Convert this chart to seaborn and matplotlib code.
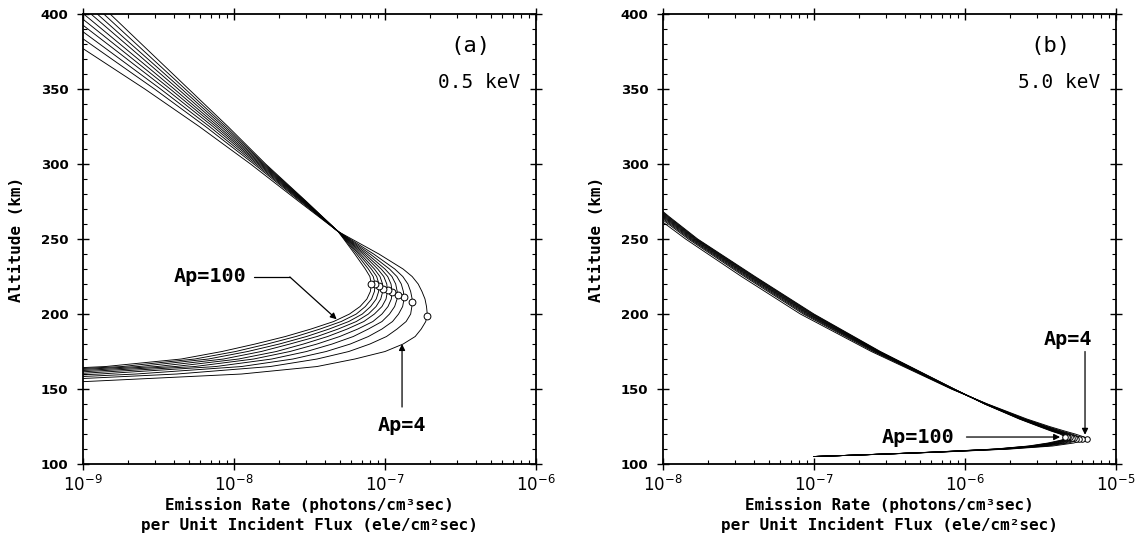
"""
Emission rate profiles vs altitude for 0.5 keV and 5.0 keV electrons
"""

import matplotlib

matplotlib.use("Agg")
import matplotlib.pyplot as plt
import pandas as pd
import seaborn as sns
from matplotlib.ticker import FixedLocator, LogLocator, MultipleLocator, NullFormatter

# Ap index of each curve
ap_values = [4, 9, 15, 22, 30, 40, 52, 65, 80, 100]

# (a) 0.5 keV : altitude grid (km) and log10 emission rate per Ap
alt_a = [150, 155, 160, 165, 170, 175, 180, 185, 190, 195, 200, 205, 210,
         215, 220, 225, 230, 240, 255, 275, 300, 325, 350, 375, 400]
log_rate_a = [
    [-10.50, -8.98, -7.95, -7.45, -7.20, -7.00, -6.88, -6.80, -6.76, -6.73, -6.72, -6.725, -6.735,
     -6.755, -6.78, -6.82, -6.88, -7.04, -7.31, -7.57, -7.89, -8.23, -8.59, -8.97, -9.35],
    [-10.83, -9.42, -8.38, -7.76, -7.45, -7.24, -7.10, -6.99, -6.92, -6.86, -6.83, -6.822, -6.820,
     -6.830, -6.848, -6.882, -6.935, -7.075, -7.31, -7.559, -7.868, -8.188, -8.526, -8.88, -9.233],
    [-11.04, -9.71, -8.65, -7.95, -7.61, -7.39, -7.23, -7.11, -7.02, -6.95, -6.91, -6.883, -6.874,
     -6.878, -6.892, -6.921, -6.97, -7.098, -7.31, -7.552, -7.854, -8.162, -8.486, -8.822, -9.159],
    [-11.22, -9.95, -8.89, -8.12, -7.75, -7.52, -7.35, -7.21, -7.11, -7.02, -6.97, -6.936, -6.920,
     -6.919, -6.929, -6.954, -7.00, -7.117, -7.31, -7.546, -7.842, -8.139, -8.451, -8.773, -9.096],
    [-11.37, -10.15, -9.08, -8.26, -7.87, -7.63, -7.45, -7.30, -7.18, -7.08, -7.02, -6.980, -6.958,
     -6.953, -6.96, -6.982, -7.025, -7.133, -7.31, -7.541, -7.832, -8.12, -8.422, -8.732, -9.043],
    [-11.51, -10.33, -9.26, -8.39, -7.97, -7.72, -7.54, -7.38, -7.25, -7.14, -7.07, -7.020, -6.993,
     -6.984, -6.988, -7.008, -7.048, -7.147, -7.31, -7.536, -7.823, -8.103, -8.396, -8.695, -8.995],
    [-11.64, -10.52, -9.43, -8.51, -8.07, -7.82, -7.63, -7.45, -7.31, -7.19, -7.11, -7.059, -7.028,
     -7.015, -7.016, -7.033, -7.07, -7.162, -7.31, -7.532, -7.814, -8.086, -8.37, -8.658, -8.947],
    [-11.76, -10.68, -9.59, -8.63, -8.17, -7.91, -7.70, -7.52, -7.37, -7.24, -7.15, -7.095, -7.058,
     -7.042, -7.04, -7.055, -7.09, -7.174, -7.31, -7.528, -7.806, -8.07, -8.346, -8.626, -8.905],
    [-11.88, -10.84, -9.74, -8.74, -8.26, -7.99, -7.78, -7.59, -7.43, -7.29, -7.19, -7.130, -7.089,
     -7.070, -7.065, -7.078, -7.11, -7.187, -7.31, -7.524, -7.798, -8.055, -8.323, -8.593, -8.862],
    [-12.00, -11.00, -9.90, -8.85, -8.35, -8.08, -7.86, -7.66, -7.49, -7.34, -7.235, -7.165, -7.12,
     -7.097, -7.09, -7.10, -7.13, -7.20, -7.31, -7.52, -7.79, -8.04, -8.30, -8.56, -8.82],
]
peak_alt_a = [199, 208, 211.5, 212.5, 215, 216, 217, 219, 220, 220]
peak_log_a = [-6.72, -6.82, -6.872, -6.917, -6.953, -6.983, -7.014, -7.039, -7.065, -7.09]
xticks_a = [1e-9, 1e-8, 1e-7, 1e-6]

# (b) 5.0 keV
alt_b = [105, 106, 107, 108, 110, 112, 114, 116, 117, 118, 120,
         122, 125, 130, 140, 150, 175, 200, 225, 250, 265, 275]
log_rate_b = [
    [-7.00, -6.700, -6.420, -6.150, -5.700, -5.420, -5.280, -5.210, -5.190, -5.210, -5.270,
     -5.340, -5.440, -5.590, -5.850, -6.090, -6.620, -7.090, -7.480, -7.850, -8.050, -8.180],
    [-7.00, -6.704, -6.427, -6.161, -5.722, -5.455, -5.317, -5.243, -5.224, -5.238, -5.292,
     -5.360, -5.455, -5.601, -5.854, -6.086, -6.607, -7.070, -7.460, -7.832, -8.030, -8.158],
    [-7.00, -6.707, -6.431, -6.168, -5.736, -5.478, -5.341, -5.264, -5.246, -5.255, -5.306,
     -5.372, -5.465, -5.608, -5.857, -6.083, -6.598, -7.058, -7.448, -7.821, -8.018, -8.144],
    [-7.00, -6.710, -6.434, -6.174, -5.748, -5.497, -5.362, -5.282, -5.264, -5.270, -5.318,
     -5.383, -5.474, -5.614, -5.860, -6.080, -6.591, -7.047, -7.437, -7.812, -8.007, -8.132],
    [-7.00, -6.712, -6.437, -6.179, -5.758, -5.513, -5.379, -5.297, -5.280, -5.283, -5.328,
     -5.392, -5.481, -5.619, -5.862, -6.078, -6.585, -7.038, -7.428, -7.804, -7.998, -8.122],
    [-7.00, -6.713, -6.440, -6.184, -5.767, -5.527, -5.394, -5.311, -5.294, -5.294, -5.337,
     -5.400, -5.487, -5.624, -5.863, -6.077, -6.580, -7.030, -7.420, -7.796, -7.990, -8.113],
    [-7.00, -6.715, -6.443, -6.188, -5.776, -5.542, -5.409, -5.324, -5.308, -5.305, -5.346,
     -5.408, -5.493, -5.628, -5.865, -6.075, -6.574, -7.022, -7.412, -7.789, -7.982, -8.104],
    [-7.00, -6.717, -6.445, -6.192, -5.784, -5.554, -5.423, -5.336, -5.320, -5.315, -5.354,
     -5.416, -5.499, -5.632, -5.867, -6.073, -6.570, -7.014, -7.404, -7.783, -7.974, -8.096],
    [-7.00, -6.718, -6.448, -6.196, -5.792, -5.567, -5.436, -5.348, -5.333, -5.325, -5.362,
     -5.423, -5.504, -5.636, -5.868, -6.072, -6.565, -7.007, -7.397, -7.776, -7.967, -8.088],
    [-7.00, -6.720, -6.450, -6.200, -5.800, -5.580, -5.450, -5.360, -5.345, -5.335, -5.370,
     -5.430, -5.510, -5.640, -5.870, -6.070, -6.560, -7.000, -7.390, -7.770, -7.960, -8.080],
]
peak_alt_b = [117, 117, 117, 117, 117.5, 117.5, 118, 118, 118, 118]
peak_log_b = [-5.19, -5.224, -5.246, -5.264, -5.28, -5.294, -5.305, -5.315, -5.325, -5.335]
xticks_b = [1e-8, 1e-7, 1e-6, 1e-5]

XLABEL = "Emission Rate (photons/cm³sec)\nper Unit Incident Flux (ele/cm²sec)"
MONO = ["DejaVu Sans Mono", "DejaVu Sans"]


def to_frame(alts, log_rates):
    rows = []
    for ap, logs in zip(ap_values, log_rates):
        for h, lr in zip(alts, logs):
            rows.append({"Ap": ap, "altitude": h, "rate": 10.0 ** lr})
    return pd.DataFrame(rows)


def peak_frame(alts, logs):
    return pd.DataFrame({"Ap": ap_values, "altitude": alts, "rate": [10.0 ** v for v in logs]})


def draw_panel(ax, df, peaks, xticks, tag, energy, msize):
    ax.set_xscale("log")
    sns.lineplot(data=df, x="rate", y="altitude", units="Ap", estimator=None, sort=False,
                 color="black", lw=0.65, legend=False, ax=ax)
    sns.scatterplot(data=peaks, x="rate", y="altitude", marker="o", s=msize, color="white",
                    edgecolor="black", linewidth=0.7, legend=False, ax=ax, zorder=3)

    ax.set_xlim(xticks[0], xticks[-1])
    ax.set_ylim(100, 400)
    ax.yaxis.set_major_locator(MultipleLocator(50))
    ax.yaxis.set_minor_locator(MultipleLocator(10))
    ax.xaxis.set_major_locator(FixedLocator(xticks))
    ax.xaxis.set_minor_locator(LogLocator(base=10, subs=range(2, 10)))
    ax.xaxis.set_minor_formatter(NullFormatter())

    ax.tick_params(which="major", direction="inout", length=9, width=1.0,
                   top=True, right=True, color="black", labelcolor="black")
    ax.tick_params(which="minor", direction="in", length=3, width=0.8,
                   top=True, right=True, color="black")
    ax.tick_params(axis="x", which="major", labelsize=12, pad=3)
    ax.tick_params(axis="y", which="major", labelsize=9.5, pad=6)
    for lbl in ax.get_yticklabels():
        lbl.set_fontweight("bold")
        lbl.set_family("DejaVu Sans")

    for sp in ax.spines.values():
        sp.set_visible(True)
        sp.set_linewidth(1.3)
        sp.set_color("black")

    ax.set_xlabel(XLABEL, family=MONO, fontweight="bold", fontsize=11.5,
                  linespacing=1.25, labelpad=2, color="black")
    ax.set_ylabel("Altitude (km)", family=MONO, fontweight="bold", fontsize=11.5,
                  labelpad=12, color="black")

    ax.text(0.855, 0.93, tag, transform=ax.transAxes, ha="center", va="center",
            family=MONO, fontsize=16, color="black")
    ax.text(0.965, 0.848, energy, transform=ax.transAxes, ha="right", va="center",
            family=MONO, fontsize=14, color="black")


def arrow(ax, start, tip):
    ax.annotate("", xy=tip, xytext=start,
                arrowprops=dict(arrowstyle="-|>", lw=0.9, color="black",
                                mutation_scale=9, shrinkA=0, shrinkB=0))


sns.set_theme(style="ticks")
plt.rcParams["font.family"] = ["DejaVu Sans", "DejaVu Sans Mono"]
plt.rcParams["text.color"] = "black"
plt.rcParams["axes.labelcolor"] = "black"

fig = plt.figure(figsize=(11.46, 5.4), dpi=100)
ax_a = fig.add_axes([0.0724, 0.1407, 0.3953, 0.8333])
ax_b = fig.add_axes([0.5785, 0.1407, 0.3953, 0.8333])

draw_panel(ax_a, to_frame(alt_a, log_rate_a), peak_frame(peak_alt_a, peak_log_a),
           xticks_a, "(a)", "0.5 keV", 24)
draw_panel(ax_b, to_frame(alt_b, log_rate_b), peak_frame(peak_alt_b, peak_log_b),
           xticks_b, "(b)", "5.0 keV", 16)

# annotations, panel (a)
ax_a.text(10 ** -7.92, 224.7, "Ap=100", ha="right", va="center", family=MONO,
          fontsize=14.5, fontweight="bold")
ax_a.plot([10 ** -7.87, 10 ** -7.63], [224.7, 224.7], color="black", lw=0.9)
arrow(ax_a, (10 ** -7.63, 224.7), (10 ** -7.32, 196.5))
ax_a.text(10 ** -6.887, 126, "Ap=4", ha="center", va="center", family=MONO,
          fontsize=14.5, fontweight="bold")
arrow(ax_a, (10 ** -6.887, 138), (10 ** -6.887, 180))

# annotations, panel (b)
ax_b.text(10 ** -6.07, 118, "Ap=100", ha="right", va="center", family=MONO,
          fontsize=14.5, fontweight="bold")
arrow(ax_b, (10 ** -5.99, 118), (10 ** -5.37, 118))
ax_b.text(10 ** -5.32, 183, "Ap=4", ha="center", va="center", family=MONO,
          fontsize=14.5, fontweight="bold")
arrow(ax_b, (10 ** -5.205, 175), (10 ** -5.205, 119.5))

fig.savefig("out.png", dpi=100, facecolor="white")
plt.close(fig)
